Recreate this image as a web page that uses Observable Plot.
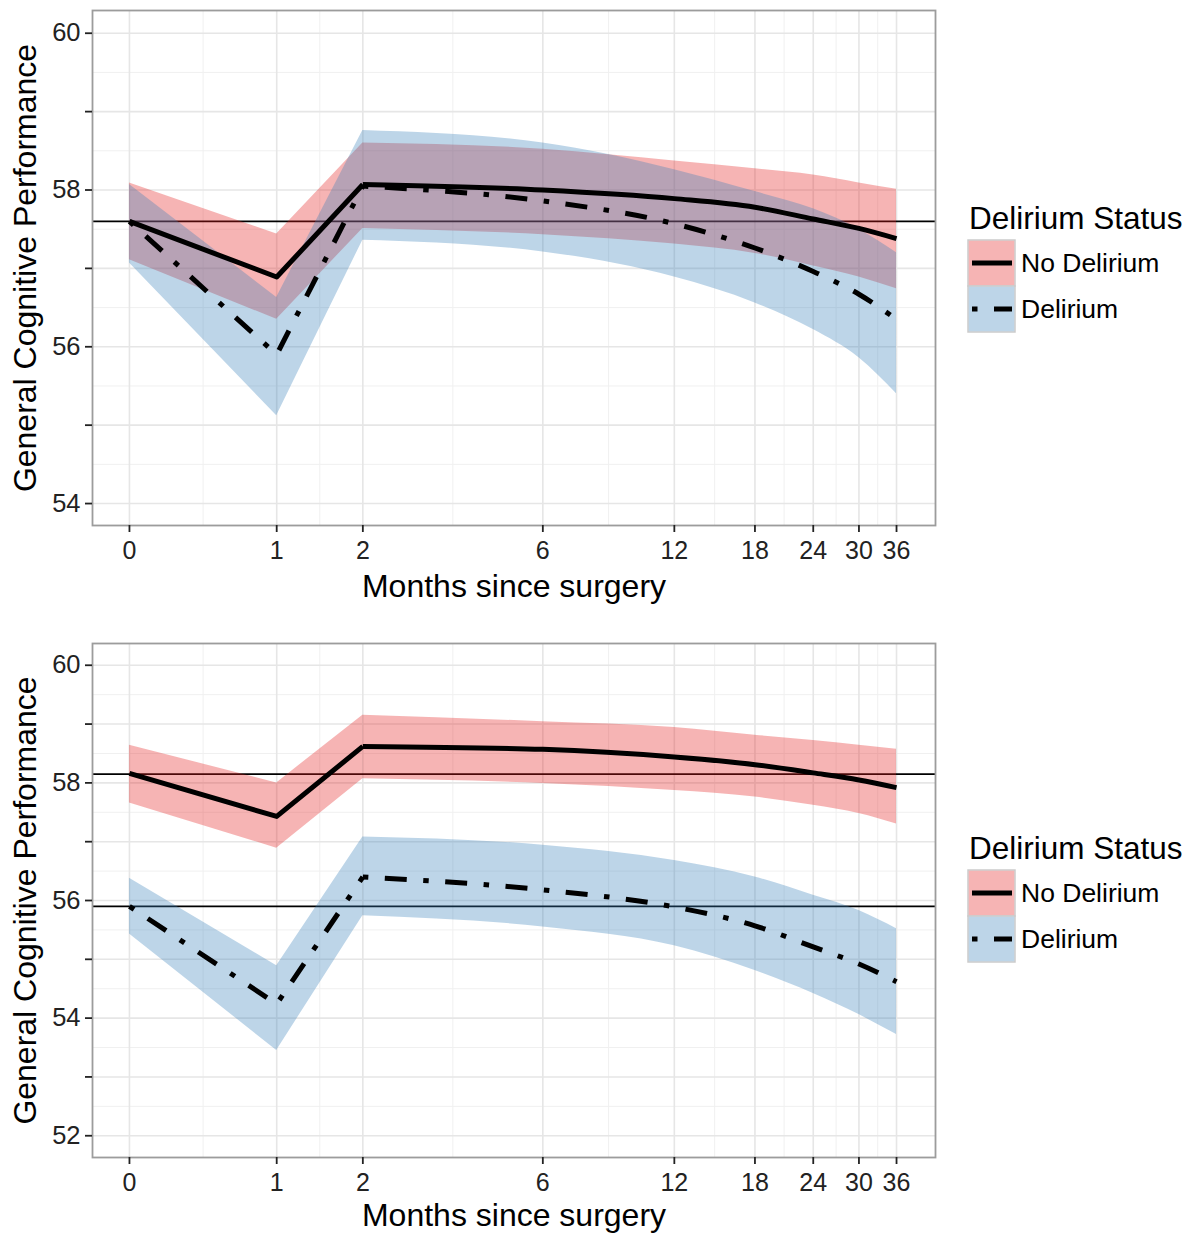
<!DOCTYPE html>
<html>
<head>
<meta charset="utf-8">
<script src="https://cdn.jsdelivr.net/npm/d3@7"></script>
<script src="https://cdn.jsdelivr.net/npm/@observablehq/plot@0.6"></script>
<style>
  body { margin: 0; background: #fff; font-family: "Liberation Sans", Arial, sans-serif; }
  #wrap { position: relative; width: 1189px; height: 1234px; overflow: hidden; background: #fff; }
  .panel { position: absolute; left: 0; }
  #legend { position: absolute; left: 0; top: 0; pointer-events: none; }
</style>
</head>
<body>
<div id="wrap"></div>
<script>
// ---------- data ----------
const months = [0, 1, 2, 6, 12, 18, 24, 30, 36];
const xTicks = [0, 1, 2, 6, 12, 18, 24, 30, 36];
const groups = ["No Delirium", "Delirium"];

// Panel A (top)
const aNoDel   = [57.60, 56.89, 58.07, 58.00, 57.89, 57.78, 57.63, 57.51, 57.38];
const aNoDelHi = [58.09, 57.44, 58.60, 58.52, 58.37, 58.27, 58.19, 58.09, 58.01];
const aNoDelLo = [57.11, 56.35, 57.51, 57.43, 57.31, 57.19, 57.03, 56.89, 56.74];
const aDel     = [57.60, 55.90, 58.05, 57.86, 57.57, 57.26, 56.96, 56.67, 56.35];
const aDelHi   = [58.07, 56.63, 58.76, 58.60, 58.26, 57.98, 57.76, 57.50, 57.20];
const aDelLo   = [57.07, 55.12, 57.36, 57.21, 56.89, 56.56, 56.22, 55.86, 55.40];
const aRefs    = [57.60];
const aYTicks  = [54, 55, 56, 57, 58, 59, 60];

// Panel B (bottom)
const bNoDel   = [58.16, 57.43, 58.62, 58.57, 58.44, 58.31, 58.17, 58.05, 57.92];
const bNoDelHi = [58.64, 58.00, 59.15, 59.04, 58.94, 58.81, 58.72, 58.64, 58.57];
const bNoDelLo = [57.66, 56.89, 58.07, 57.99, 57.87, 57.76, 57.62, 57.48, 57.30];
const bDel     = [55.90, 54.24, 56.40, 56.18, 55.89, 55.57, 55.21, 54.92, 54.62];
const bDelHi   = [56.38, 54.89, 57.08, 56.94, 56.68, 56.40, 56.09, 55.83, 55.52];
const bDelLo   = [55.43, 53.45, 55.74, 55.55, 55.23, 54.81, 54.42, 54.06, 53.72];
const bRefs    = [58.15, 55.90];
const bYTicks  = [52, 53, 54, 55, 56, 57, 58, 59, 60];

// ---------- styles ----------
const fills = {"No Delirium": "#E41A1C", "Delirium": "#377EB8"};
const fillOpacity = 0.33;
const dotdash = "5.5,16.5,22,16.5";
const lineW = 5;
const FONT = "Liberation Sans, Arial, sans-serif";

function table(mean, lo, hi, group) {
  return months.map((t, i) => ({t, y: mean[i], lo: lo[i], hi: hi[i], group}));
}

// minor x grid: midpoints in log1p space
const xMinor = xTicks.slice(1).map((b, i) => Math.expm1((Math.log1p(xTicks[i]) + Math.log1p(b)) / 2));

function panel({nd, de, refs, yDomain, yTicks, height, marginBottom, titleDy}) {
  const yMinor = [];
  for (let v = yTicks[0] - 0.5; v <= yTicks[yTicks.length - 1] + 0.5; v += 1) {
    if (v > yDomain[0] && v < yDomain[1]) yMinor.push(v);
  }
  const early = d => d.t <= 2;
  const late = d => d.t >= 2;
  const marks = [
    Plot.ruleX(xMinor, {stroke: "#f0f0f0", strokeWidth: 1}),
    Plot.ruleY(yMinor, {stroke: "#f0f0f0", strokeWidth: 1}),
    Plot.ruleX(xTicks, {stroke: "#e6e6e6", strokeWidth: 1.6}),
    Plot.ruleY(yTicks, {stroke: "#e6e6e6", strokeWidth: 1.6}),
    Plot.ruleY(refs, {stroke: "#000", strokeWidth: 1.8})
  ];
  for (const data of [nd, de]) {
    const f = fills[data[0].group];
    marks.push(
      Plot.areaY(data.filter(early), {x: "t", y1: "lo", y2: "hi", fill: f, fillOpacity, curve: "linear"}),
      Plot.areaY(data.filter(late), {x: "t", y1: "lo", y2: "hi", fill: f, fillOpacity, curve: "monotone-x"})
    );
  }
  for (const data of [nd, de]) {
    const dash = data[0].group === "Delirium" ? dotdash : null;
    marks.push(
      Plot.lineY(data.filter(early), {x: "t", y: "y", stroke: "#000", strokeWidth: lineW, strokeDasharray: dash, strokeLinecap: "butt", strokeLinejoin: "round", curve: "linear"}),
      Plot.lineY(data.filter(late), {x: "t", y: "y", stroke: "#000", strokeWidth: lineW, strokeDasharray: dash, strokeLinecap: "butt", strokeLinejoin: "round", curve: "monotone-x"})
    );
  }
  marks.push(
    Plot.frame({stroke: "#9c9c9c", strokeWidth: 1.8}),
    Plot.axisX({ticks: xTicks, tickFormat: d => String(d), tickSize: 7, tickPadding: 9, fontSize: 25, color: "#222", strokeWidth: 1.8, label: null}),
    Plot.axisY({ticks: yTicks, tickFormat: d => (d % 2 === 0 ? String(d) : ""), tickSize: 7, tickPadding: 5, fontSize: 25.5, color: "#222", strokeWidth: 1.8, label: null}),
    Plot.text(["Months since surgery"], {text: d => d, frameAnchor: "bottom", lineAnchor: "middle", textAnchor: "middle", dy: titleDy, fontSize: 32, fill: "#000"}),
    Plot.text(["General Cognitive Performance"], {text: d => d, frameAnchor: "left", lineAnchor: "middle", textAnchor: "middle", rotate: -90, dx: -67, fontSize: 32, fill: "#000"})
  );
  return Plot.plot({
    width: 940,
    height,
    marginLeft: 92,
    marginRight: 5,
    marginTop: 10,
    marginBottom,
    style: {fontFamily: FONT, background: "transparent", overflow: "visible"},
    x: {type: "symlog", constant: 1, domain: [-0.19, 43.45]},
    y: {domain: yDomain},
    marks
  });
}

const wrap = document.getElementById("wrap");

const pA = panel({
  nd: table(aNoDel, aNoDelLo, aNoDelHi, "No Delirium"),
  de: table(aDel, aDelLo, aDelHi, "Delirium"),
  refs: aRefs, yDomain: [53.72, 60.29], yTicks: aYTicks, height: 617, marginBottom: 92, titleDy: 61
});
pA.classList.add("panel");
pA.style.top = "0px";
wrap.appendChild(pA);

const pB = panel({
  nd: table(bNoDel, bNoDelLo, bNoDelHi, "No Delirium"),
  de: table(bDel, bDelLo, bDelHi, "Delirium"),
  refs: bRefs, yDomain: [51.63, 60.37], yTicks: bYTicks, height: 601, marginBottom: 77, titleDy: 58
});
pB.classList.add("panel");
pB.style.top = "633px";
wrap.appendChild(pB);

// ---------- legends ----------
const svg = d3.select(wrap).append("svg")
  .attr("id", "legend").attr("width", 1189).attr("height", 1234)
  .style("font-family", FONT);

function legend(titleY, keyTop) {
  const g = svg.append("g");
  g.append("text").attr("x", 969).attr("y", titleY).attr("font-size", 31.5).attr("fill", "#000").text("Delirium Status");
  groups.forEach((grp, i) => {
    const y0 = keyTop + i * 46;
    g.append("rect").attr("x", 968).attr("y", y0).attr("width", 47).attr("height", 46)
      .attr("fill", "#fff").attr("stroke", "#cccccc").attr("stroke-width", 1.5);
    g.append("rect").attr("x", 968.75).attr("y", y0 + 0.75).attr("width", 45.5).attr("height", 44.5)
      .attr("fill", fills[grp]).attr("fill-opacity", fillOpacity);
    const ln = g.append("line").attr("x1", 972).attr("x2", 1012).attr("y1", y0 + 23).attr("y2", y0 + 23)
      .attr("stroke", "#000").attr("stroke-width", lineW).attr("stroke-linecap", "butt");
    if (grp === "Delirium") ln.attr("stroke-dasharray", dotdash);
    g.append("text").attr("x", 1021).attr("y", y0 + 23).attr("dy", "0.35em")
      .attr("font-size", 26.5).attr("fill", "#000").text(grp);
  });
}
legend(229, 240);
legend(859, 870);
</script>
</body>
</html>
